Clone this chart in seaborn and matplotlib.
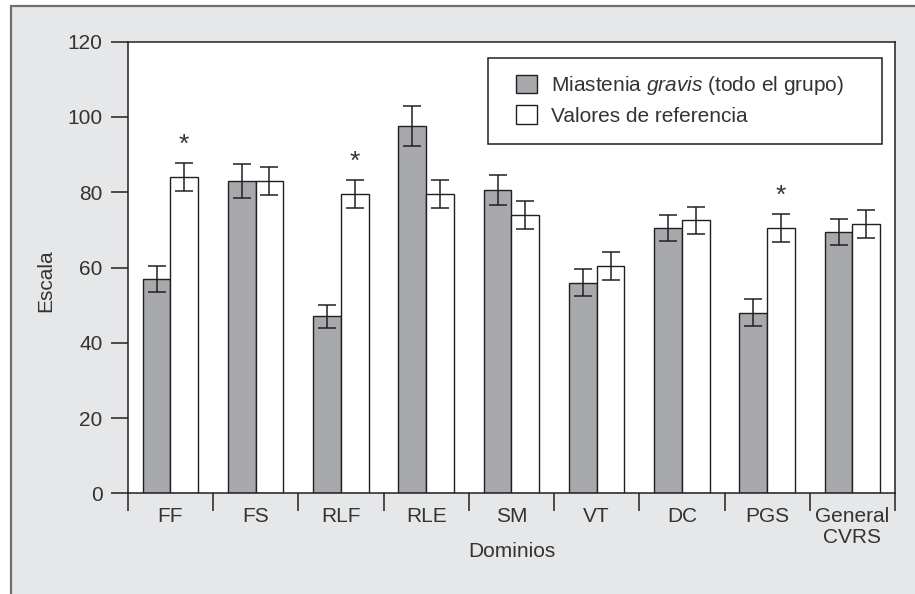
import numpy as np
import pandas as pd
import matplotlib
matplotlib.use("Agg")
import matplotlib.pyplot as plt
from matplotlib.patches import Patch, Rectangle
import seaborn as sns

# Calidad de vida por dominio: media y error de cada grupo
dominios = ["FF", "FS", "RLF", "RLE", "SM", "VT", "DC", "PGS", "General\nCVRS"]
mg_media = [57, 83, 47, 97.5, 80.5, 56, 70.5, 48, 69.5]
mg_error = [3.5, 4.6, 3.0, 5.3, 4.0, 3.5, 3.5, 3.5, 3.5]
ref_media = [84, 83, 79.5, 79.5, 74, 60.5, 72.5, 70.5, 71.5]
ref_error = [3.7, 3.7, 3.7, 3.7, 3.8, 3.7, 3.7, 3.7, 3.7]
significativo = [True, False, True, False, False, False, False, True, False]
grupos = ["Miastenia gravis", "Valores de referencia"]
etiquetas = ["Miastenia $\\it{gravis}$ (todo el grupo)", "Valores de referencia"]
y_ticks = [0, 20, 40, 60, 80, 100, 120]

TEXT = "#333333"
LINE = "#231f20"
GRIS = "#a7a9ac"
PANEL = "#e6e7e8"
FRAME = "#6d6e71"

sns.set_style("ticks")
plt.rcParams.update({
    "font.family": ["Liberation Sans", "DejaVu Sans"],
    "mathtext.fontset": "custom",
    "mathtext.rm": "Liberation Sans",
    "mathtext.it": "Liberation Sans:italic",
    "text.color": TEXT,
    "axes.labelcolor": TEXT,
    "xtick.color": LINE,
    "ytick.color": LINE,
    "xtick.labelcolor": TEXT,
    "ytick.labelcolor": TEXT,
    "axes.edgecolor": LINE,
    "axes.linewidth": 1.1,
})

fig = plt.figure(figsize=(9.15, 5.94), dpi=100, facecolor="white")
# panel gris con borde
fig.add_artist(Rectangle((10.5 / 915, -0.05), 1.2, 1.05 - 5.5 / 594,
                         transform=fig.transFigure, facecolor=PANEL,
                         edgecolor=FRAME, linewidth=1.6, zorder=-1))
ax = fig.add_axes([0.1396, 0.1695, 0.8386, 0.7603])
ax.set_facecolor("white")

df = pd.DataFrame({
    "Dominio": dominios * 2,
    "Grupo": [grupos[0]] * len(dominios) + [grupos[1]] * len(dominios),
    "Escala": mg_media + ref_media,
})

sns.barplot(data=df, x="Dominio", y="Escala", hue="Grupo", order=dominios,
            hue_order=grupos, palette=[GRIS, "white"], width=0.65,
            saturation=1, edgecolor=LINE, linewidth=1.0, errorbar=None,
            legend=False, ax=ax, zorder=2)

for cont, medias, errores in zip(ax.containers, [mg_media, ref_media],
                                 [mg_error, ref_error]):
    xs = [b.get_x() + b.get_width() / 2 for b in cont]
    ax.errorbar(xs, medias, yerr=errores, fmt="none", ecolor=LINE,
                elinewidth=1.1, capsize=6.5, capthick=1.1, zorder=3)

# asteriscos de diferencia significativa
for b, m, e, s in zip(ax.containers[1], ref_media, ref_error, significativo):
    if s:
        ax.annotate("*", (b.get_x() + b.get_width() / 2, m + e),
                    xytext=(0, 8.2), textcoords="offset points",
                    ha="center", va="baseline", fontsize=19, color=TEXT)

ax.set_ylim(0, 120)
ax.set_yticks(y_ticks)
ax.tick_params(axis="y", direction="out", length=12.5, width=1.1, pad=5.5,
               labelsize=15)

ax.set_xlim(-0.5, len(dominios) - 0.5)
ax.set_xticks(np.arange(-0.5, len(dominios), 1.0))
ax.set_xticklabels([])
ax.set_xticks(range(len(dominios)), minor=True)
ax.set_xticklabels(dominios, minor=True, linespacing=1.15)
ax.tick_params(axis="x", which="major", direction="out", length=13, width=1.1)
ax.tick_params(axis="x", which="minor", length=0, pad=9.5, labelsize=15)

for sp in ax.spines.values():
    sp.set_visible(True)
    sp.set_color(LINE)
    sp.set_linewidth(1.1)

ax.set_xlabel("Dominios", fontsize=15)
ax.xaxis.set_label_coords(0.5, -0.108)
ax.set_ylabel("Escala", fontsize=15)
ax.yaxis.set_label_coords(-0.094, 0.47)

handles = [Patch(facecolor=GRIS, edgecolor=LINE, linewidth=1.0),
           Patch(facecolor="white", edgecolor=LINE, linewidth=1.0)]
ax.legend(handles, etiquetas, loc="upper left", bbox_to_anchor=(0.5057, 0.9285),
          frameon=False, borderpad=0, borderaxespad=0, handlelength=1.0,
          handleheight=1.0, handletextpad=0.67, labelspacing=0.4, fontsize=15)
ax.add_patch(Rectangle((0.4696, 0.7735), 0.9834 - 0.4696, 0.963 - 0.7735,
                       transform=ax.transAxes, facecolor="white",
                       edgecolor=LINE, linewidth=1.1, zorder=4))

fig.savefig("out.png", dpi=100)
